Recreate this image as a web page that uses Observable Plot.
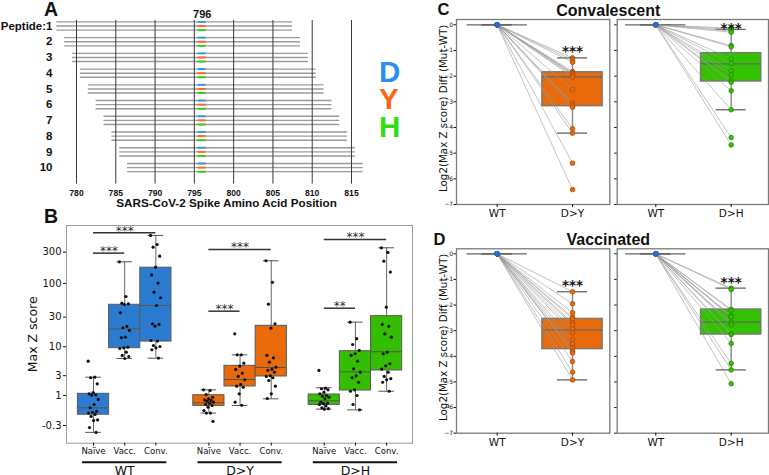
<!DOCTYPE html>
<html><head><meta charset="utf-8">
<script src="https://cdn.jsdelivr.net/npm/d3@7"></script>
<script src="https://cdn.jsdelivr.net/npm/@observablehq/plot@0.6"></script>
<style>
html,body{margin:0;padding:0;background:#fff;}
#fig{position:relative;width:769px;height:475px;overflow:hidden;background:#fff;}
.panel{position:absolute;}
.panel svg{display:block;}
</style></head><body><div id="fig"></div>
<script>
// ================= Panel A data =================
const peptideIds = [1,2,3,4,5,6,7,8,9,10];
const peptideStart = [778,779,780,781,782,783,784,785,786,787];
const peptideLength = 30;
const mutationSite = 796;
const residueVariants = ["D","Y","H"];
const variantColors = ["#3597f2","#ff6a12","#33cc1a"];
const xTicksA = [780,785,790,795,800,805,810,815];
const xTitleA = "SARS-CoV-2 Spike Amino Acid Position";

// ================= Panel B data (Max Z score) =================
const groupsB = ["WT","D>Y","D>H"];
const cohortsB = ["Naïve","Vacc.","Conv."];
const groupColorsB = ["#2b7bd1","#e86a0a","#33be00"];
const bWTNaive = [5.64,2.79,2.72,2.01,1.22,1.12,1.05,1.02,0.74,0.46,0.30,0.15,0.11,0.08,0.03,-0.04,-0.15,-0.17,-0.35,-0.45];
const bWTVacc  = [214,62.9,49.6,48.4,47.3,35.1,21.4,20.4,18.5,14.4,14.1,9.84,9.61,9.35,8.10,7.11,6.83,6.30];
const bWTConv  = [540,393,358,261,177,135,101,73.3,60.1,45.6,23.6,23.0,21.6,12.7,12.4,10.5,10.1,9.6,8.9,6.4];
const bDYNaive = [1.44,1.38,1.07,0.88,0.78,0.72,0.68,0.64,0.58,0.53,0.46,0.41,0.33,0.18,0.08,0.08,-0.19];
const bDYVacc  = [16.3,7.30,7.30,5.19,4.57,3.97,3.36,2.89,2.47,1.94,1.77,1.67,1.12,0.58,0.42];
const bDYConv  = [222,104,47.8,23.6,20.1,7.11,6.48,5.41,4.38,4.02,3.80,3.52,2.98,2.89,2.72,2.38,1.77,1.12,0.80];
const bDHNaive = [3.80,1.58,1.53,1.44,1.24,1.12,1.00,0.95,0.88,0.78,0.58,0.53,0.50,0.46,0.39,0.30,0.26,0.24];
const bDHVacc  = [25.0,13.6,10.9,8.66,7.61,7.11,5.64,4.09,3.52,2.98,2.72,2.18,1.44,1.32,1.00,0.46,0.21];
const bDHConv  = [350,297,219,149,42.9,23.0,21.4,16.3,14.4,8.10,7.61,5.07,4.65,4.02,3.52,2.89,2.62,2.47,2.18,1.32];
// box statistics: [whisker low, q1, median, q3, whisker high]
const boxWTNaive = [-0.45,0.02,0.30,1.12,2.79];
const boxWTVacc  = [6.30,9.47,19.6,46.8,214];
const boxWTConv  = [6.38,12.2,45.6,174,540];
const boxDYNaive = [0.08,0.39,0.55,1.02,1.44];
const boxDYVacc  = [0.41,1.74,2.50,4.65,7.30];
const boxDYConv  = [0.78,2.89,4.33,21.9,222];
const boxDHNaive = [0.24,0.44,0.66,1.07,1.62];
const boxDHVacc  = [0.21,1.38,3.58,8.42,25.0];
const boxDHConv  = [1.32,3.80,8.23,31.1,350];
const yTicksB = [300,100,30,10,3,1,-0.3];
const yTickLabelsB = ["300","100","30","10","3","1","-0.3"];
const sigB = [
  {group:0, from:0, to:1, level:290, label:"***"},
  {group:0, from:0, to:2, level:593, label:"***"},
  {group:1, from:0, to:1, level:37.2, label:"***"},
  {group:1, from:0, to:2, level:330, label:"***"},
  {group:2, from:0, to:1, level:41.4, label:"**"},
  {group:2, from:0, to:2, level:469, label:"***"}
];

// ================= Panels C & D data (Log2 diff Mut-WT) =================
const convDY = [-1.29,-1.37,-1.46,-1.82,-1.87,-1.90,-1.92,-1.98,-2.03,-2.52,-3.04,-3.12,-3.21,-4.05,-4.22,-5.39,-6.42];
const convDH = [-0.13,-0.18,-0.24,-0.29,-0.81,-0.86,-1.33,-1.51,-1.79,-1.95,-2.17,-2.24,-2.57,-3.31,-4.39,-4.68];
const vaccDY = [-1.48,-1.95,-2.30,-2.47,-2.54,-2.69,-2.77,-2.93,-3.08,-3.35,-3.51,-3.68,-3.81,-3.87,-4.20,-4.62,-4.92];
const vaccDH = [-1.34,-1.39,-2.17,-2.20,-2.41,-2.45,-2.46,-2.67,-2.70,-2.77,-3.12,-3.15,-3.50,-4.28,-4.53,-5.07];
const boxConvDY = [-4.22,-3.17,-2.03,-1.85,-1.29];
const boxConvDH = [-3.31,-2.21,-1.52,-1.105,-0.18];
const boxVaccDY = [-4.92,-3.72,-2.97,-2.54,-1.48];
const boxVaccDH = [-4.53,-3.15,-2.668,-2.174,-1.34];
const starConvDY = -0.90, starConvDH = 0.0, starVaccDY = -1.11, starVaccDH = -0.975;
const yTicksCD = [0,-1,-2,-3,-4,-5,-6,-7];
const yLabelCD = "Log2(Max Z score) Diff (Mut-WT)";

// ================= helpers =================
const fig = document.getElementById("fig");
function place(node, left, top) {
  const d = document.createElement("div");
  d.className = "panel"; d.style.left = left + "px"; d.style.top = top + "px";
  d.appendChild(node); fig.appendChild(d);
}
const baseStyle = (family) => ({fontFamily: family, background: "transparent", overflow: "visible", maxWidth: "none", color: "#111"});

// ================= Panel A =================
(function() {
  const rows = [];
  peptideIds.forEach((p, i) => residueVariants.forEach((v, k) => {
    rows.push({peptide: p, k, start: peptideStart[i] - 0.5, end: peptideStart[i] + peptideLength - 0.5, color: variantColors[k]});
  }));
  const yOf = d => d.peptide + (d.k - 1) * 0.26;
  const chart = Plot.plot({
    width: 420, height: 215,
    marginLeft: 76, marginRight: 69, marginTop: 20, marginBottom: 31.4,
    x: {domain: [780, 815]},
    y: {domain: [0.65, 11.05], reverse: true, axis: null},
    color: {type: "identity"},
    style: baseStyle("Liberation Sans, Arial, sans-serif"),
    marks: [
      Plot.ruleY(rows, {x1: "start", x2: "end", y: yOf, stroke: "#9b9b9b", strokeWidth: 1.4}),
      Plot.gridX(xTicksA, {stroke: "#3a3a3a", strokeOpacity: 1, strokeWidth: 1}),
      Plot.ruleY(rows, {x1: () => mutationSite - 0.5, x2: () => mutationSite + 0.5, y: yOf, stroke: "color", strokeWidth: 2}),
      Plot.text(peptideIds, {y: d => d, text: d => d === 1 ? "Peptide:1" : String(d), frameAnchor: "left", dx: -24, textAnchor: "end", lineAnchor: "middle", fontWeight: "bold", fontSize: 11.5}),
      Plot.text([mutationSite], {x: d => d, text: d => String(d), frameAnchor: "top", dy: -6, lineAnchor: "middle", textAnchor: "middle", fontWeight: "bold", fontSize: 11}),
      Plot.axisX(xTicksA, {tickSize: 0, tickPadding: 5.5, fontSize: 8.6, fontWeight: "bold", label: null}),
      Plot.text([xTitleA], {text: d => d, frameAnchor: "bottom", dx: 12.5, dy: 19, lineAnchor: "middle", textAnchor: "middle", fontWeight: "bold", fontSize: 11.7})
    ]
  });
  place(chart, 0, 0);
})();

// ================= Panel B =================
(function() {
  const pointsB = [[bWTNaive,bWTVacc,bWTConv],[bDYNaive,bDYVacc,bDYConv],[bDHNaive,bDHVacc,bDHConv]];
  const boxesB = [[boxWTNaive,boxWTVacc,boxWTConv],[boxDYNaive,boxDYVacc,boxDYConv],[boxDHNaive,boxDHVacc,boxDHConv]];
  const GROUP_STEP = 3.7;
  const pos = (gi, ci) => gi * GROUP_STEP + ci;
  const T = v => Math.log10(v + 1);
  const jitter = i => (((i * 0.6180339887) % 1) - 0.5) * 0.34;
  const boxRows = [], dotRows = [], tickPos = [], tickLab = new Map();
  groupsB.forEach((g, gi) => cohortsB.forEach((c, ci) => {
    const [lo, q1, med, q3, hi] = boxesB[gi][ci];
    const x = pos(gi, ci);
    tickPos.push(x); tickLab.set(x, c);
    boxRows.push({x, lo, q1, med, q3, hi, color: groupColorsB[gi]});
    pointsB[gi][ci].forEach((v, i) => dotRows.push({x, v, j: jitter(i)}));
  }));
  const groupRows = groupsB.map((g, gi) => ({g, x: pos(gi, 1)}));
  const tickMap = new Map(yTicksB.map((v, i) => [T(v), yTickLabelsB[i]]));
  const yMin = -0.424;
  const chart = Plot.plot({
    width: 430, height: 280,
    marginLeft: 66, marginRight: 18, marginTop: 25, marginBottom: 37.3,
    x: {domain: [-0.866, 10.23]},
    y: {domain: [yMin, 2.884]},
    color: {type: "identity"},
    style: baseStyle("DejaVu Sans, sans-serif"),
    marks: [
      Plot.frame({stroke: "#9a9a9a", strokeWidth: 1}),
      Plot.ruleX(boxRows, {x: "x", y1: d => T(d.lo), y2: d => T(d.q1), stroke: "#666", strokeWidth: 1}),
      Plot.ruleX(boxRows, {x: "x", y1: d => T(d.q3), y2: d => T(d.hi), stroke: "#666", strokeWidth: 1}),
      Plot.ruleY(boxRows, {x1: d => d.x - 0.25, x2: d => d.x + 0.25, y: d => T(d.lo), stroke: "#555", strokeWidth: 1}),
      Plot.ruleY(boxRows, {x1: d => d.x - 0.25, x2: d => d.x + 0.25, y: d => T(d.hi), stroke: "#555", strokeWidth: 1}),
      Plot.rect(boxRows, {x1: d => d.x - 0.5, x2: d => d.x + 0.5, y1: d => T(d.q1), y2: d => T(d.q3), fill: "color", stroke: "#5a5a5a", strokeWidth: 1}),
      Plot.ruleY(boxRows, {x1: d => d.x - 0.5, x2: d => d.x + 0.5, y: d => T(d.med), stroke: "#555", strokeWidth: 1}),
      Plot.dot(dotRows, {x: d => d.x + d.j, y: d => T(d.v), r: 1.6, fill: "#111", stroke: "none"}),
      Plot.ruleY(sigB, {x1: d => pos(d.group, d.from), x2: d => pos(d.group, d.to), y: d => T(d.level), stroke: "#333", strokeWidth: 1.5}),
      Plot.text(sigB, {x: d => (pos(d.group, d.from) + pos(d.group, d.to)) / 2, y: d => T(d.level), text: "label", dy: -2, fontSize: 12, fill: "#222", fillOpacity: 0.99}),
      Plot.axisY({ticks: yTicksB.map(T), tickFormat: d => tickMap.get(d), tickSize: 3, tickPadding: 2, fontSize: 10, label: null}),
      Plot.axisX(tickPos, {tickFormat: d => tickLab.get(d), tickSize: 3, tickPadding: 2, fontSize: 8.5, label: null}),
      Plot.ruleY(groupRows, {x1: d => d.x - 1.35, x2: d => d.x + 1.35, y: () => yMin, dy: 19, stroke: "#111", strokeWidth: 2}),
      Plot.text(groupRows, {x: "x", y: () => yMin, text: "g", dy: 23, lineAnchor: "top", fontSize: 12.5}),
      Plot.text(["Max Z score"], {text: d => d, frameAnchor: "left", dx: -34, rotate: -90, textAnchor: "middle", lineAnchor: "middle", fontSize: 12.5})
    ]
  });
  place(chart, 0, 200);
})();

// ================= Panels C & D =================
function pairPanel({values, box, mutLabel, color, edge, starLevel, yDomain, xDomain, width, height, mL, mR, mT, mB, showLabels}) {
  const [lo, q1, med, q3, hi] = box;
  const boxes = [{x: 0, lo: 0, q1: 0, med: 0, q3: 0, hi: 0}, {x: 1, lo, q1, med, q3, hi}];
  const marks = [
    Plot.frame({stroke: "#7a7a7a", strokeWidth: 1.3}),
    Plot.ruleX(boxes, {x: "x", y1: "lo", y2: "q1", stroke: "#888", strokeWidth: 1.4}),
    Plot.ruleX(boxes, {x: "x", y1: "q3", y2: "hi", stroke: "#888", strokeWidth: 1.4}),
    Plot.rect(boxes.filter(d => d.q3 > d.q1), {x1: d => d.x - 0.4, x2: d => d.x + 0.4, y1: "q1", y2: "q3", fill: color, stroke: "#777", strokeWidth: 1.4}),
    Plot.ruleY(boxes, {x1: d => d.x - 0.2, x2: d => d.x + 0.2, y: "lo", stroke: "#666", strokeWidth: 1.3}),
    Plot.ruleY(boxes, {x1: d => d.x - 0.2, x2: d => d.x + 0.2, y: "hi", stroke: "#666", strokeWidth: 1.3}),
    Plot.ruleY(boxes, {x1: d => d.x - 0.4, x2: d => d.x + 0.4, y: "med", stroke: "#666", strokeWidth: 1.3}),
    Plot.link(values, {x1: () => 0, y1: () => 0, x2: () => 1, y2: d => d, stroke: "#999", strokeWidth: 0.7, strokeOpacity: 0.85}),
    Plot.dot(values, {x: () => 0, y: () => 0, r: 2.3, fill: "#2e6fd6", stroke: "#2a5fb0", strokeWidth: 0.5}),
    Plot.dot(values, {x: () => 1, y: d => d, r: 2.3, fill: color, stroke: edge, strokeWidth: 0.8}),
    Plot.text([starLevel], {x: () => 1, y: d => d, text: () => "***", fontSize: 13.5, fontWeight: "bold", dy: 3.5, fill: "#111"}),
    Plot.axisX([0, 1], {tickFormat: d => d === 0 ? "WT" : mutLabel, tickSize: 3, tickPadding: 2, fontSize: 10.5, label: null}),
    Plot.axisY(yTicksCD, {tickFormat: showLabels ? (d => d === 0 ? "0" : "\u2212" + Math.abs(d)) : (() => ""), tickSize: 2.5, tickPadding: 1, fontSize: 6, label: null})
  ];
  if (showLabels) marks.push(Plot.text([yLabelCD], {text: d => d, frameAnchor: "left", dx: -12.7, dy: -3.6, rotate: -90, textAnchor: "middle", lineAnchor: "middle", fontSize: 10.3}));
  return Plot.plot({
    width, height, marginLeft: mL, marginRight: mR, marginTop: mT, marginBottom: mB,
    x: {domain: xDomain}, y: {domain: yDomain},
    style: baseStyle("DejaVu Sans, sans-serif"),
    marks
  });
}
const orange = "#e86a0a", orangeEdge = "#b04a05", green = "#33c200", greenEdge = "#248a00";
place(pairPanel({values: convDY, box: boxConvDY, mutLabel: "D>Y", color: orange, edge: orangeEdge, starLevel: starConvDY,
  yDomain: [-7, 0.206], xDomain: [-0.54, 1.495], width: 185, height: 235, mL: 26, mR: 5.7, mT: 19, mB: 31, showLabels: true}), 430, 0);
place(pairPanel({values: convDH, box: boxConvDH, mutLabel: "D>H", color: green, edge: greenEdge, starLevel: starConvDH,
  yDomain: [-7, 0.206], xDomain: [-0.512, 1.495], width: 157, height: 235, mL: 4.7, mR: 1, mT: 19, mB: 31, showLabels: false}), 612, 0);
place(pairPanel({values: vaccDY, box: boxVaccDY, mutLabel: "D>Y", color: orange, edge: orangeEdge, starLevel: starVaccDY,
  yDomain: [-7, 0.195], xDomain: [-0.54, 1.495], width: 185, height: 235, mL: 26, mR: 5.7, mT: 18.3, mB: 32.3, showLabels: true}), 430, 230);
place(pairPanel({values: vaccDH, box: boxVaccDH, mutLabel: "D>H", color: green, edge: greenEdge, starLevel: starVaccDH,
  yDomain: [-7, 0.195], xDomain: [-0.512, 1.495], width: 157, height: 235, mL: 4.7, mR: 1, mT: 18.3, mB: 32.3, showLabels: false}), 612, 230);

// ================= Figure annotations (panel letters, titles, residue legend) =================
(function() {
  const svg = d3.create("svg").attr("width", 769).attr("height", 475)
    .style("position", "absolute").style("left", "0px").style("top", "0px").style("pointer-events", "none");
  const bold = "Liberation Sans, Arial, sans-serif";
  const labels = [
    {t: "A", x: 44, y: 15.7, s: 19.5, a: "start", c: "#111"},
    {t: "B", x: 44, y: 223, s: 19.5, a: "start", c: "#111"},
    {t: "C", x: 437.5, y: 15, s: 16.5, a: "start", c: "#111"},
    {t: "D", x: 433.5, y: 245, s: 16.5, a: "start", c: "#111"},
    {t: "Convalescent", x: 608.3, y: 15.5, s: 16, a: "middle", c: "#111"},
    {t: "Vaccinated", x: 608.3, y: 244.5, s: 16, a: "middle", c: "#111"}
  ];
  const legend = residueVariants.map((v, i) => ({t: v, x: 379, y: 81.7 + i * 27.5, s: 29.5, a: "start", c: ["#2b8ff2","#ff6412","#2fdd10"][i]}));
  svg.selectAll("text").data(labels.concat(legend)).join("text")
    .attr("x", d => d.x).attr("y", d => d.y).attr("text-anchor", d => d.a)
    .attr("font-family", bold).attr("font-weight", "bold").attr("font-size", d => d.s).attr("fill", d => d.c)
    .text(d => d.t);
  fig.appendChild(svg.node());
})();
</script></body></html>
